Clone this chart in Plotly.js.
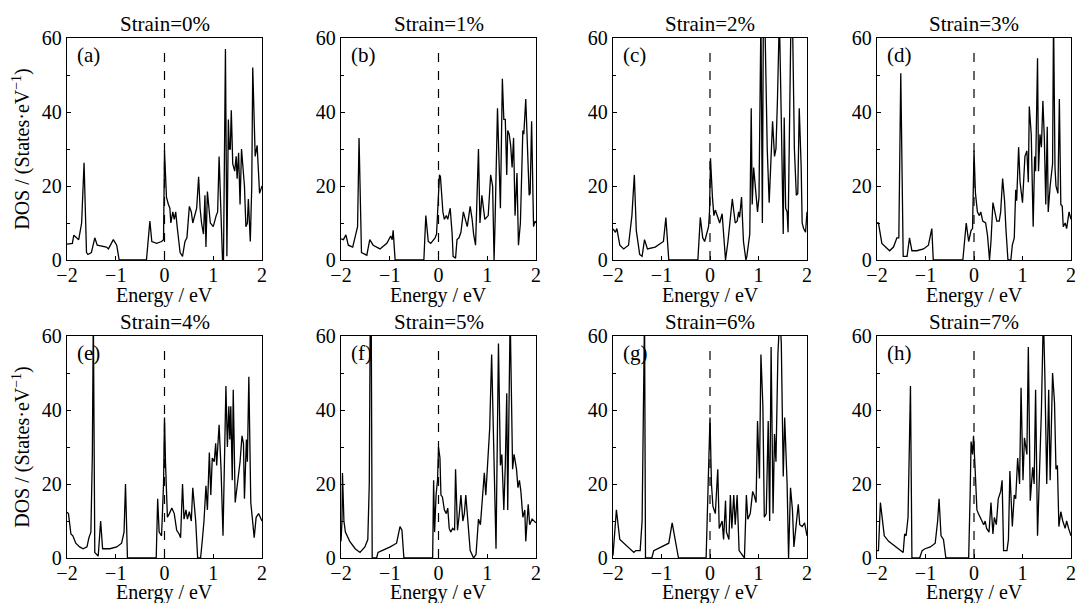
<!DOCTYPE html>
<html><head><meta charset="utf-8">
<script src="https://cdn.plot.ly/plotly-3.0.1.min.js"></script>
<style>html,body{margin:0;padding:0;background:#fff}#chart{width:1077px;height:603px}</style>
</head><body><div id="chart"></div>
<script>
// ---------- data (energy in eV, DOS in states/eV) ----------
const strainLabels = ['Strain=0%','Strain=1%','Strain=2%','Strain=3%','Strain=4%','Strain=5%','Strain=6%','Strain=7%'];
const panelLetters = ['(a)','(b)','(c)','(d)','(e)','(f)','(g)','(h)'];
const xTitle = 'Energy / eV';
const yTitle = 'DOS / (States·eV<sup>−1</sup>)';
const xTickVals = [-2,-1,0,1,2];
const yTickVals = [0,20,40,60];

const dosA = [[-2.00,4.3],[-1.89,4.5],[-1.86,6.7],[-1.79,6.0],[-1.76,5.5],[-1.70,10],[-1.65,26.3],[-1.60,2],[-1.57,1.5],[-1.50,2],[-1.43,6],[-1.38,4],[-1.19,3.5],[-1.15,3],[-1.05,5.5],[-0.98,4],[-0.93,0],[-0.37,0],[-0.30,10.5],[-0.26,5],[-0.16,4.5],[-0.06,5],[-0.02,5.5],[0.00,29.5],[0.04,17],[0.08,15],[0.11,14],[0.13,10],[0.17,13],[0.20,11],[0.23,13],[0.26,9],[0.30,5],[0.32,2],[0.37,1],[0.42,5],[0.46,6],[0.51,14.5],[0.55,13],[0.58,10],[0.66,14],[0.70,22.5],[0.73,14],[0.76,10],[0.80,7],[0.83,17.5],[0.85,3.5],[0.88,18.5],[0.94,10],[1.00,9],[1.06,12],[1.09,13],[1.12,28],[1.16,12],[1.19,0],[1.21,0],[1.25,57],[1.28,1],[1.31,38],[1.33,30],[1.35,30],[1.37,40.5],[1.40,26],[1.44,24],[1.47,28],[1.49,22],[1.52,29],[1.55,15],[1.58,30],[1.64,20],[1.67,9],[1.70,10],[1.72,16.5],[1.76,5],[1.79,20],[1.81,52],[1.86,28],[1.90,31],[1.95,18],[2.00,20]];

const dosB = [[-2.00,5.7],[-1.95,5.5],[-1.90,6.8],[-1.85,4],[-1.76,3.5],[-1.71,6],[-1.66,9],[-1.63,33],[-1.58,2],[-1.47,1.3],[-1.41,5.5],[-1.34,4],[-1.20,3],[-1.06,4.5],[-0.98,6.5],[-0.95,5.5],[-0.93,8],[-0.89,0],[-0.30,0],[-0.26,12],[-0.21,5],[-0.16,4.5],[-0.07,6],[-0.04,7],[0.02,23],[0.04,22.5],[0.09,13],[0.12,11],[0.16,12],[0.19,11],[0.24,14],[0.28,7],[0.30,1],[0.35,0.5],[0.38,5.5],[0.42,6],[0.46,7.5],[0.51,13],[0.59,9],[0.65,14.5],[0.69,11],[0.72,7],[0.76,4],[0.82,30],[0.85,10],[0.89,17.5],[0.92,14],[0.95,11],[1.02,12],[1.07,23],[1.11,20],[1.14,0],[1.16,10],[1.21,41],[1.27,14],[1.31,49],[1.34,38],[1.37,38],[1.40,23],[1.42,35],[1.45,34],[1.48,31],[1.51,25],[1.54,33],[1.57,12],[1.61,23.5],[1.64,4],[1.68,10],[1.73,35],[1.75,34],[1.79,43.5],[1.82,30],[1.86,17.5],[1.88,18],[1.91,37.5],[1.95,9],[1.98,10.5],[2.00,10]];

const dosC = [[-2.00,8.4],[-1.95,7.5],[-1.92,8.5],[-1.86,4],[-1.78,3],[-1.68,4],[-1.61,12],[-1.56,23],[-1.52,8],[-1.45,1.5],[-1.40,1],[-1.35,5.5],[-1.29,3],[-1.13,3.5],[-0.96,5],[-0.91,11.5],[-0.85,0],[-0.25,0],[-0.20,11.5],[-0.15,6],[-0.11,5],[-0.06,7.5],[-0.03,9],[-0.01,13],[0.01,27.5],[0.05,17],[0.08,12],[0.11,13.5],[0.15,12],[0.18,11],[0.20,10],[0.25,12.5],[0.30,4],[0.32,0],[0.37,5],[0.42,12],[0.46,16.5],[0.52,10],[0.56,10.5],[0.59,13],[0.61,11.5],[0.65,17],[0.69,5],[0.74,0],[0.76,1],[0.80,5],[0.82,7],[0.85,41],[0.87,15],[0.90,25],[0.93,21],[0.98,13],[1.01,17],[1.05,66],[1.08,10],[1.10,66],[1.13,66],[1.18,30],[1.22,15.5],[1.29,37.5],[1.33,28],[1.36,30],[1.39,43],[1.43,66],[1.47,38],[1.51,7],[1.53,38.5],[1.56,14],[1.59,13],[1.61,7.5],[1.67,66],[1.70,66],[1.74,30],[1.78,17.5],[1.81,18],[1.84,41],[1.88,25],[1.90,10],[1.93,8.5],[1.97,7.5],[2.00,13]];

const dosD = [[-2.00,10],[-1.97,10],[-1.90,4.5],[-1.83,3.5],[-1.74,2.5],[-1.66,3.5],[-1.59,6],[-1.55,6],[-1.51,50.5],[-1.46,1],[-1.38,1],[-1.33,6],[-1.28,2.5],[-1.18,2.5],[-1.04,3],[-0.94,4],[-0.87,8.5],[-0.84,0],[-0.23,0],[-0.16,10],[-0.11,5],[-0.06,8],[-0.03,8.5],[0.00,29.5],[0.03,18],[0.07,13],[0.11,12],[0.14,13],[0.18,10.5],[0.24,10],[0.28,6.5],[0.32,0],[0.35,5],[0.39,15.5],[0.44,12.5],[0.47,10.5],[0.52,10.5],[0.55,13],[0.59,22],[0.63,16],[0.66,8],[0.70,0],[0.76,0],[0.79,4],[0.83,6],[0.86,19],[0.88,16],[0.92,30.5],[0.95,21],[1.00,15.5],[1.05,28],[1.09,29.5],[1.12,21],[1.14,41.5],[1.18,34],[1.22,9],[1.25,28],[1.27,24],[1.31,54.5],[1.33,24],[1.36,34],[1.39,30.5],[1.42,43],[1.45,33],[1.48,15],[1.51,36],[1.53,13],[1.57,20],[1.62,26],[1.64,66],[1.67,25],[1.69,20],[1.73,18],[1.76,43.5],[1.79,15],[1.82,14.5],[1.84,9],[1.88,10],[1.91,8.5],[1.96,13],[2.00,11]];

const dosE = [[-2.00,12.4],[-1.97,12],[-1.92,6.5],[-1.88,6],[-1.82,4],[-1.74,3],[-1.67,2.5],[-1.59,3],[-1.55,5.5],[-1.51,7],[-1.48,28],[-1.46,66],[-1.43,1.5],[-1.36,0.5],[-1.31,10],[-1.27,2.5],[-1.12,2.5],[-0.98,3],[-0.88,4],[-0.83,7],[-0.80,20],[-0.76,0],[-0.17,0],[-0.14,16],[-0.11,7],[-0.06,6],[-0.02,20],[0.00,38],[0.02,26],[0.06,11],[0.10,12],[0.15,13.5],[0.20,12],[0.25,7.5],[0.30,6.5],[0.33,5.5],[0.37,20],[0.40,10.5],[0.44,13],[0.47,10.5],[0.51,12.5],[0.55,10],[0.58,19],[0.61,15],[0.64,10],[0.68,0],[0.74,0],[0.77,4],[0.81,10],[0.85,19.5],[0.88,13],[0.92,28.5],[0.95,17],[0.98,27],[1.02,26],[1.05,31],[1.07,25],[1.12,36],[1.16,24],[1.20,6],[1.23,23],[1.26,46.5],[1.29,30],[1.32,41],[1.34,32],[1.36,41],[1.39,21],[1.41,45.5],[1.45,15],[1.50,21],[1.55,26],[1.59,33],[1.62,31],[1.64,16],[1.68,32],[1.70,26],[1.73,49],[1.77,15],[1.81,9],[1.84,5.5],[1.88,11],[1.93,12],[2.00,10]];

const dosF = [[-2.00,4.5],[-1.98,10],[-1.97,23],[-1.94,10],[-1.91,7],[-1.82,4.5],[-1.71,2.5],[-1.61,1.5],[-1.51,3],[-1.45,5],[-1.42,20],[-1.40,66],[-1.38,66],[-1.36,0],[-1.27,0],[-1.24,1.5],[-1.16,2],[-0.99,3],[-0.86,4],[-0.79,8.5],[-0.75,7.5],[-0.71,0],[-0.12,0],[-0.10,21],[-0.08,7],[-0.05,17],[-0.02,21],[0.00,30],[0.03,27],[0.05,17],[0.08,16.5],[0.12,13],[0.16,12],[0.19,13.5],[0.22,8],[0.25,7],[0.29,8],[0.33,7.5],[0.35,24],[0.39,7.5],[0.42,11],[0.46,17],[0.50,10],[0.53,12],[0.56,17],[0.60,9],[0.65,2],[0.72,0],[0.77,1],[0.82,10.5],[0.86,9],[0.90,16],[0.94,23],[0.97,17],[1.01,25],[1.05,35],[1.09,55],[1.13,30],[1.18,2.5],[1.23,58],[1.27,25],[1.30,28],[1.34,13],[1.37,25],[1.40,44.5],[1.42,13],[1.47,66],[1.52,24],[1.55,28],[1.60,24],[1.63,19],[1.66,21],[1.69,18],[1.73,11],[1.77,13],[1.79,4.5],[1.84,14.5],[1.87,9],[1.92,10.5],[2.00,9.5]];

const dosG = [[-2.00,0.7],[-1.97,5],[-1.93,13],[-1.86,5],[-1.78,4],[-1.68,3],[-1.57,1.5],[-1.53,2],[-1.44,2],[-1.40,10],[-1.37,40],[-1.35,66],[-1.33,0],[-1.20,0],[-1.16,2],[-1.02,3],[-0.85,4],[-0.78,9.5],[-0.74,6.5],[-0.68,2],[-0.65,0],[-0.08,0],[-0.03,27],[0.00,38],[0.03,20],[0.06,14],[0.11,12],[0.16,24],[0.19,8],[0.25,10],[0.28,5],[0.32,15.5],[0.34,7],[0.39,5],[0.42,17],[0.45,8],[0.49,17],[0.52,9],[0.56,17],[0.60,2],[0.71,0],[0.75,17],[0.78,10.5],[0.83,12],[0.88,18],[0.91,17],[0.95,15],[0.98,37],[1.02,21.5],[1.05,55],[1.09,41],[1.12,11],[1.16,12],[1.20,37],[1.23,10],[1.26,57],[1.30,12],[1.33,33.5],[1.36,26],[1.40,55],[1.44,66],[1.47,58],[1.51,22],[1.54,38],[1.59,20],[1.62,0],[1.66,19],[1.70,13],[1.73,3],[1.78,9],[1.82,14.5],[1.85,9],[1.90,8.5],[1.95,9.5],[2.00,6]];

const dosH = [[-2.00,2],[-1.97,2],[-1.93,15],[-1.90,11],[-1.85,6],[-1.76,4.5],[-1.66,3.5],[-1.55,2.5],[-1.46,1.5],[-1.43,6.5],[-1.40,6],[-1.36,11],[-1.33,28],[-1.31,46.5],[-1.28,0],[-1.12,0],[-1.07,2],[-1.01,2.5],[-0.90,3],[-0.80,4],[-0.75,10],[-0.72,16],[-0.68,6],[-0.63,5],[-0.58,0],[-0.11,0],[-0.08,17],[-0.06,31.5],[-0.03,28],[-0.01,33],[0.02,25],[0.06,13],[0.09,12],[0.13,11],[0.16,10],[0.20,9],[0.23,10],[0.26,8],[0.31,7],[0.35,15],[0.39,6.5],[0.42,11],[0.46,9],[0.50,16],[0.55,18],[0.58,21],[0.61,2],[0.68,2],[0.71,5],[0.74,23.5],[0.79,8.5],[0.83,17],[0.86,16],[0.90,27],[0.94,20],[0.97,46],[1.01,21],[1.04,32.5],[1.09,28],[1.12,57],[1.16,15.5],[1.21,24.5],[1.24,20],[1.27,45.5],[1.31,6],[1.36,28],[1.39,40],[1.43,66],[1.46,50],[1.50,20],[1.54,45.5],[1.57,21],[1.62,50],[1.66,42],[1.69,24],[1.72,25],[1.75,8.5],[1.79,12.5],[1.83,10],[1.88,8],[1.91,10],[1.95,8],[2.00,6]];

const panelData = [dosA,dosB,dosC,dosD,dosE,dosF,dosG,dosH];

// ---------- layout geometry ----------
const W = 1077, H = 603;
const colsPx = [[67,262],[341,536],[613,807],[877,1071]];
const rowsPx = [[38,260],[336,558]];
const xTitleY = [295, 592];
const FONT = '"Liberation Serif", "Times New Roman", Times, serif';
const FS = 21;

const traces = [];
const layout = {
  width: W, height: H,
  margin: {l:0, r:0, t:0, b:0},
  paper_bgcolor: '#fff', plot_bgcolor: '#fff',
  showlegend: false,
  font: {family: FONT, size: FS, color: '#000'},
  annotations: [], shapes: []
};

panelData.forEach((pts, i) => {
  const n = i + 1;
  const xa = n === 1 ? 'x' : 'x' + n;
  const ya = n === 1 ? 'y' : 'y' + n;
  const xk = n === 1 ? 'xaxis' : 'xaxis' + n;
  const yk = n === 1 ? 'yaxis' : 'yaxis' + n;
  const col = i % 4, row = Math.floor(i / 4);
  const cx = colsPx[col], ry = rowsPx[row];
  const midX = (cx[0] + cx[1]) / 2 / W;

  traces.push({
    type: 'scatter', mode: 'lines',
    x: pts.map(p => p[0]), y: pts.map(p => p[1]),
    xaxis: xa, yaxis: ya,
    line: {color: '#000', width: 1.3},
    hoverinfo: 'skip'
  });

  layout[xk] = {
    domain: [cx[0] / W, cx[1] / W], anchor: ya,
    range: [-2, 2], tickvals: xTickVals,
    ticks: 'inside', ticklen: 4, tickwidth: 1, tickcolor: '#000',
    ticklabelstandoff: -3,
    showline: true, mirror: true, linecolor: '#000', linewidth: 1.2,
    showgrid: false, zeroline: false,
    tickfont: {family: FONT, size: 20, color: '#000'}
  };
  const yax = {
    domain: [1 - ry[1] / H, 1 - ry[0] / H], anchor: xa,
    range: [0, 60], tickvals: yTickVals,
    ticks: 'inside', ticklen: 4, tickwidth: 1, tickcolor: '#000',
    minor: {tickvals: [10, 30, 50], ticks: 'inside', ticklen: 3, tickcolor: '#000'},
    showline: true, mirror: true, linecolor: '#000', linewidth: 1.2,
    showgrid: false, zeroline: false,
    tickfont: {family: FONT, size: 20, color: '#000'}
  };
  if (col === 0) {
    yax.title = {text: yTitle, font: {family: FONT, size: 20, color: '#000'}, standoff: 6};
  }
  layout[yk] = yax;

  // x-axis title (placed as annotation for exact position)
  layout.annotations.push({
    text: xTitle, xref: 'paper', yref: 'paper',
    x: midX, y: 1 - xTitleY[row] / H,
    xanchor: 'center', yanchor: 'middle', showarrow: false,
    font: {family: FONT, size: 20, color: '#000'}
  });
  // subplot title
  layout.annotations.push({
    text: strainLabels[i], xref: 'paper', yref: 'paper',
    x: midX, y: 1 - (ry[0] - 14) / H,
    xanchor: 'center', yanchor: 'middle', showarrow: false,
    font: {family: FONT, size: FS, color: '#000'}
  });
  // panel letter
  layout.annotations.push({
    text: panelLetters[i], xref: xa + ' domain', yref: ya + ' domain',
    x: 0.04, y: 0.985, xanchor: 'left', yanchor: 'top', showarrow: false,
    font: {family: FONT, size: FS, color: '#000'}
  });
  // Fermi level dashed line
  layout.shapes.push({
    type: 'line', xref: xa, yref: ya + ' domain',
    x0: 0, x1: 0, y0: 0, y1: 0.965,
    line: {color: '#000', width: 1.2, dash: 'dash'}
  });
});

Plotly.newPlot('chart', traces, layout, {staticPlot: true, displayModeBar: false});
</script>
</body></html>
